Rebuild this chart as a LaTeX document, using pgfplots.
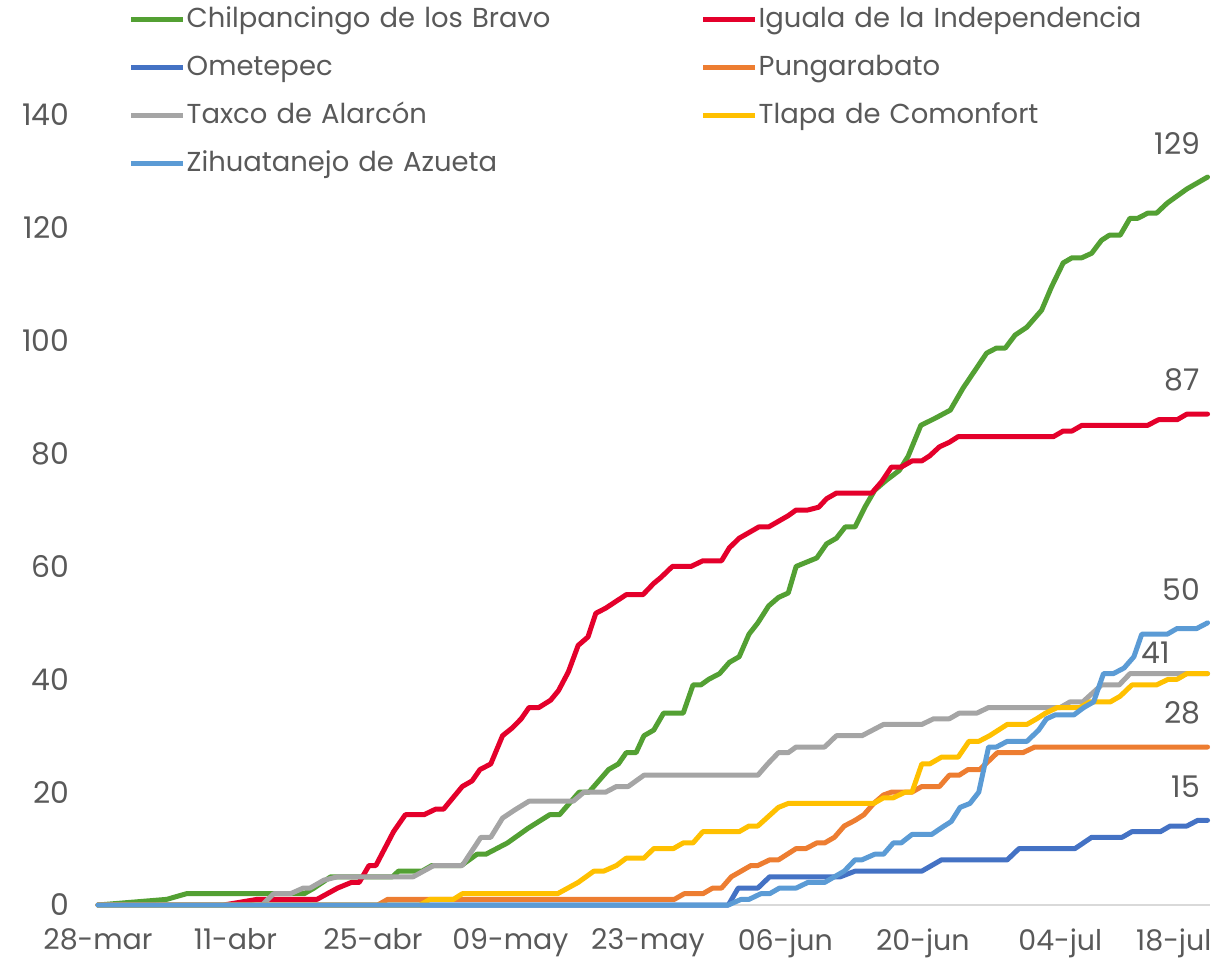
\documentclass[border=0pt]{standalone}
\usepackage{fontspec}
\setmainfont{Poppins}
\usepackage{pgfplots}
\pgfplotsset{compat=1.18}

\definecolor{cgreen}{HTML}{53A033}
\definecolor{cred}{HTML}{E4002B}
\definecolor{cdblue}{HTML}{4472C4}
\definecolor{corange}{HTML}{ED7D31}
\definecolor{cgray}{HTML}{A5A5A5}
\definecolor{cyellow}{HTML}{FFC000}
\definecolor{clblue}{HTML}{5B9BD5}
\definecolor{txtgray}{HTML}{595959}
\definecolor{axisgray}{HTML}{D9D9D9}

\tikzset{lbl/.style={pos=1, anchor=south east, inner sep=0pt, xshift=-0.5mm, yshift=2.0mm,
        font=\fontsize{8.5}{10}\selectfont, text=txtgray}}

\begin{document}
\begin{tikzpicture}
\begin{axis}[
    scale only axis,
    width=111.2mm, height=79mm,
    at={(0,0)}, anchor=south west,
    xmin=0, xmax=113.25, ymin=0, ymax=140,
    axis lines*=left,
    x axis line style={draw=axisgray, line width=0.2mm},
    y axis line style={draw=none},
    tick style={draw=none},
    xtick={0,14,...,98},
    xticklabels={28-mar,11-abr,25-abr,09-may,23-may,06-jun,20-jun,04-jul},
    extra x ticks={112},
    extra x tick labels={18-jul},
    extra x tick style={xticklabel style={xshift=-2.4mm}},
    ytick={0,20,...,140},
    tick label style={font=\fontsize{8.5}{10}\selectfont, text=txtgray},
    xticklabel style={anchor=north, inner sep=0pt, yshift=-2.3mm, font=\fontsize{8.1}{10}\selectfont},
    yticklabel style={anchor=east, inner sep=0pt, xshift=-2.8mm},
    /pgf/number format/assume math mode=true,
    clip=false,
    legend columns=2,
    legend cell align=left,
    legend style={at={(axis description cs:0.027,1.139)}, anchor=north west,
        draw=none, fill=none, inner sep=0pt,
        font=\fontsize{7.8}{9}\selectfont, text=txtgray,
        row sep=2mm, column sep=0pt,
        nodes={inner xsep=0.1mm, inner ysep=0pt, text width=51.3mm,
               text height=2.2mm, text depth=0.6mm, align=left}},
    legend image code/.code={\draw[#1, line cap=butt] (0mm,0mm) -- (5.2mm,0mm);},
    every axis plot/.append style={line width=0.5mm, line join=round, line cap=round, mark=none},
]

% Chilpancingo de los Bravo
\addplot[cgreen] coordinates {
(0,0)(7,1)(9,2)(21,2)(22,3)(23.7,5)(30,5)(30.6,6)(33,6)(34,7)(37,7)(38.6,9)(39.5,9)
(41.7,11)(43.8,13.6)(46,16)(47,16)(49,20)(50,20)(52,24)(53,25)(53.8,27)(54.8,27)
(55.6,30)(56.6,31)(57.6,34)(59.6,34)(60.6,39)(61.4,39)(62.2,40)(63.3,41)(64.3,43)
(65.3,44)(66.3,48)(67.2,50)(68.3,53)(69.3,54.5)(70.3,55.3)(71.1,60)(73.2,61.5)
(74.2,64)(75.2,65)(76.1,67)(77.1,67)(78.1,70.5)(79.1,73.5)(80.3,75.3)(81.6,77)
(82.5,79.5)(83.8,85)(85.3,86.3)(86.8,87.7)(88.1,91.6)(90.5,97.8)(91.5,98.7)(92.4,98.7)
(93.4,101)(94.6,102.4)(96.1,105.4)(97.1,109.5)(98.3,113.8)(99.2,114.7)(100.2,114.7)
(101.2,115.5)(102.2,117.8)(103,118.7)(104.1,118.7)(105.1,121.7)(105.9,121.7)
(106.9,122.6)(107.8,122.6)(108.9,124.4)(110.9,126.9)(113,129)
} node[lbl] {129};
\addlegendentry{Chilpancingo de los Bravo}

% Iguala de la Independencia
\addplot[cred] coordinates {
(0,0)(12.8,0)(16.2,1)(22.3,1)(24.4,3)(25.8,4)(26.6,4)(27.6,7)(28.3,7)(30.1,13)
(31.3,16)(33.2,16)(34.4,17)(35.2,17)(37.1,21)(38.1,22)(38.9,24)(40,25)(41.2,30)
(42.2,31.4)(43.1,33)(43.9,35)(44.9,35)(46.1,36.3)(46.9,38)(47.9,41.3)(48.9,46)
(49.9,47.5)(50.7,51.7)(51.7,52.6)(53.8,55)(55.5,55)(56.6,57)(57.3,58)(58.5,60)
(60.4,60)(61.6,61)(63.5,61)(64.3,63.3)(65.3,65)(66.3,66)(67.3,67)(68.3,67)(69.3,68)
(70.3,69)(71.1,70)(72.3,70)(73.4,70.5)(74.2,72)(75.2,73)(78.8,73)(79.8,75)
(80.8,77.6)(81.8,77.6)(82.9,78.7)(83.9,78.7)(84.7,79.6)(85.7,81.2)(86.7,82)(87.6,83)
(97.3,83)(98.3,84)(99.2,84)(100.2,85)(106.9,85)(108,86)(109.9,86)(110.9,87)(113,87)
} node[lbl] {87};
\addlegendentry{Iguala de la Independencia}

% Ometepec
\addplot[cdblue] coordinates {
(0,0)(64.2,0)(65.2,3)(67.2,3)(68.4,5)(75.6,5)(77.1,6)(83.9,6)(84.9,7)(85.9,8)
(92.6,8)(93.8,10)(99.5,10)(101.2,12)(104.3,12)(105.3,13)(108.2,13)(109.2,14)
(110.9,14)(112,15)(113,15)
} node[lbl] {15};
\addlegendentry{Ometepec}

% Pungarabato
\addplot[corange] coordinates {
(0,0)(28.5,0)(29.5,1)(58.7,1)(59.7,2)(61.6,2)(62.6,3)(63.5,3)(64.5,5)(65.5,6)
(66.5,7)(67.2,7)(68.4,8)(69.3,8)(70.2,9)(71.1,10)(72.1,10)(73.2,11)(74,11)(75,12)
(76,14)(77.1,15)(78,16)(79,18)(80,19.5)(80.8,20)(82.9,20)(83.9,21)(85.7,21)
(86.7,23)(87.7,23)(88.6,24)(89.8,24)(91.6,27)(94.2,27)(95.4,28)(113,28)
} node[lbl] {28};
\addlegendentry{Pungarabato}

% Taxco de Alarcon
\addplot[cgray] coordinates {
(0,0)(16.7,0)(17.9,2)(19.6,2)(20.9,3)(21.6,3)(23,4.4)(24.4,5)(32.1,5)(34.2,7)
(37.1,7)(39,12)(40,12)(41.2,15.4)(42.4,16.8)(43.9,18.4)(48.4,18.4)(49.5,20)
(51.7,20)(52.8,21)(54,21)(55.6,23)(67.2,23)(68.2,25)(69.3,27)(70.3,27)(71.1,28)
(74,28)(75.2,30)(77.8,30)(80,32)(83.9,32)(85.1,33)(86.7,33)(87.7,34)(89.5,34)
(90.7,35)(98,35)(99,36)(100.3,36)(102.2,39)(104,39)(105.1,41)(113,41)
} node[lbl, xshift=-3.0mm, yshift=-1.2mm] {41};
\addlegendentry{Taxco de Alarcón}

% Tlapa de Comonfort
\addplot[cyellow] coordinates {
(0,0)(32.8,0)(33.8,1)(36.2,1)(37.1,2)(46.8,2)(48.9,4)(50.5,6)(51.5,6)(52.8,7)
(53.8,8.3)(55.6,8.3)(56.6,10)(58.6,10)(59.6,11)(60.6,11)(61.6,13)(65.3,13)(66.3,14)
(67.2,14)(69.3,17.3)(70.3,18)(79,18)(80,19)(81,19)(82.2,20)(82.9,20)(83.9,25)
(84.7,25)(85.9,26.2)(87.6,26.2)(88.7,29)(89.7,29)(90.8,30)(91.7,31)(92.6,32)
(94.6,32)(95.6,33)(96.5,34)(97.7,35)(100,35)(101,36)(103.1,36)(104.1,37)(105.3,39)
(107.8,39)(109,40)(109.9,40)(110.9,41)(113,41)
};
\addlegendentry{Tlapa de Comonfort}

% Zihuatanejo de Azueta
\addplot[clblue] coordinates {
(0,0)(64.2,0)(65.5,1)(66.3,1)(67.5,2)(68.4,2)(69.4,3)(71.1,3)(72.3,4)(74,4)(75,5)
(76,6)(77.1,8)(77.8,8)(79.1,9)(80,9)(81,11)(81.8,11)(82.9,12.5)(84.9,12.5)(86,13.8)
(86.9,14.8)(87.8,17.3)(88.8,18)(89.7,20)(90.7,28)(91.5,28)(92.6,29)(94.6,29)(95.8,31)
(96.6,33)(97.5,33.7)(99.4,33.7)(100.4,35)(101.4,36)(102.4,41)(103.4,41)(104.5,42)
(105.5,44)(106.3,48)(108.9,48)(109.9,49)(111.9,49)(113,50)
} node[lbl] {50};
\addlegendentry{Zihuatanejo de Azueta}

\end{axis}
\pgfresetboundingbox
\path[use as bounding box] (-9.8mm,-5.2mm) rectangle (113.1mm,90.5mm);
\end{tikzpicture}
\end{document}
